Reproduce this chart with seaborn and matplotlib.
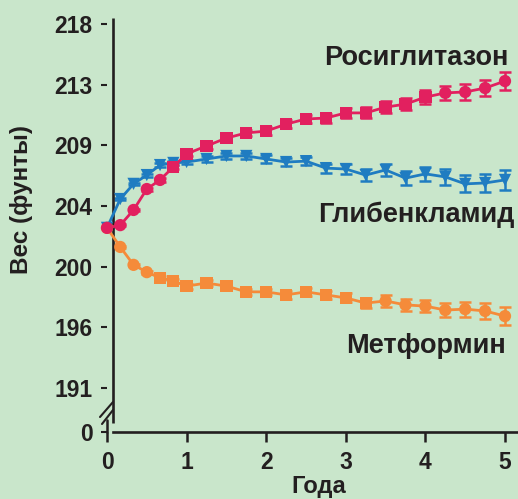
import numpy as np
import pandas as pd
import matplotlib
matplotlib.use('Agg')
import matplotlib.pyplot as plt
import seaborn as sns

# ---------------------------------------------------------------------------
# данные (ось Y линейна в кг, подписи — в фунтах)
# ---------------------------------------------------------------------------
years = [0, 1/6, 1/3, 0.5, 2/3, 5/6, 1.0, 1.25, 1.5, 1.75, 2.0, 2.25, 2.5,
         2.75, 3.0, 3.25, 3.5, 3.75, 4.0, 4.25, 4.5, 4.75, 5.0]

rosi_kg = [92.28, 92.37, 92.87, 93.56, 93.86, 94.29, 94.72, 94.98, 95.24, 95.41,
           95.47, 95.70, 95.87, 95.90, 96.07, 96.07, 96.26, 96.36, 96.59, 96.73,
           96.76, 96.89, 97.12]
rosi_err = [0, 0.03, 0.04, 0.05, 0.06, 0.07, 0.08, 0.09, 0.10, 0.11, 0.12, 0.13,
            0.14, 0.15, 0.16, 0.18, 0.20, 0.21, 0.22, 0.24, 0.25, 0.27, 0.29]
rosi_shape = ['o'] * 5 + ['s'] * 14 + ['o'] * 4

glib_kg = [92.28, 93.23, 93.73, 94.02, 94.35, 94.42, 94.45, 94.55, 94.65, 94.65,
           94.55, 94.45, 94.48, 94.25, 94.22, 94.02, 94.19, 93.92, 94.06, 93.96,
           93.73, 93.76, 93.86]
glib_err = [0, 0.03, 0.04, 0.05, 0.06, 0.07, 0.08, 0.09, 0.10, 0.11, 0.12, 0.13,
            0.14, 0.15, 0.17, 0.19, 0.21, 0.22, 0.24, 0.26, 0.28, 0.30, 0.33]
glib_shape = ['v'] * 23

metf_kg = [92.28, 91.65, 91.06, 90.82, 90.63, 90.53, 90.36, 90.46, 90.36, 90.17,
           90.17, 90.07, 90.17, 90.07, 89.97, 89.80, 89.87, 89.74, 89.70, 89.57,
           89.60, 89.54, 89.37]
metf_err = [0, 0.03, 0.04, 0.05, 0.06, 0.07, 0.08, 0.09, 0.10, 0.10, 0.11, 0.12,
            0.13, 0.14, 0.15, 0.17, 0.19, 0.20, 0.21, 0.23, 0.25, 0.27, 0.30]
metf_shape = ['o'] * 4 + ['s'] * 12 + ['o'] * 7

drugs = ['Метформин', 'Глибенкламид', 'Росиглитазон']
colors = ['#f58b3a', '#1f7cc1', '#e2205f']

y_ticks = [85.55, 87, 89, 91, 93, 95, 97, 99]      # 85.55 — позиция "0" под разрывом
y_tick_labels = ['0', '191', '196', '200', '204', '209', '213', '218']
x_ticks = [0, 1, 2, 3, 4, 5]

df = pd.concat([
    pd.DataFrame({'year': years, 'kg': metf_kg, 'err': metf_err, 'shape': metf_shape, 'drug': drugs[0]}),
    pd.DataFrame({'year': years, 'kg': glib_kg, 'err': glib_err, 'shape': glib_shape, 'drug': drugs[1]}),
    pd.DataFrame({'year': years, 'kg': rosi_kg, 'err': rosi_err, 'shape': rosi_shape, 'drug': drugs[2]}),
], ignore_index=True)

# ---------------------------------------------------------------------------
BG = '#c9e6cb'
INK = '#231f20'
W, H = 518, 499

sns.set_style('white', {'axes.facecolor': BG, 'figure.facecolor': BG})
plt.rcParams['font.family'] = ['Liberation Sans', 'DejaVu Sans']
plt.rcParams['font.weight'] = 'bold'

fig = plt.figure(figsize=(W / 100, H / 100), dpi=100)
# оси: x=0 -> 107px, x=5 -> 505px; 87 кг -> 388px, 99 кг -> 24px
px_x = 79.6
px_y = 30.33
left_px, right_px, top_px, bot_px = 101, 518, 18, 432
ax = fig.add_axes([left_px / W, 1 - bot_px / H, (right_px - left_px) / W, (bot_px - top_px) / H])
ax.set_xlim((left_px - 107) / px_x, (right_px - 107) / px_x)
ax.set_ylim(87 - (bot_px - 388) / px_y, 87 + (388 - top_px) / px_y)

pal = dict(zip(drugs, colors))
for d in drugs:
    sub = df[df['drug'] == d]
    ax.errorbar(sub['year'], sub['kg'], yerr=sub['err'], fmt='none', ecolor=pal[d],
                elinewidth=1.8, capsize=4, capthick=1.8, zorder=2, clip_on=False)
sns.lineplot(data=df, x='year', y='kg', hue='drug', hue_order=drugs, palette=pal,
             linewidth=2.0, legend=False, ax=ax, zorder=3, clip_on=False)
sns.scatterplot(data=df, x='year', y='kg', hue='drug', hue_order=drugs, palette=pal,
                style='shape', markers={'o': 'o', 's': 's', 'v': 'v'}, s=78,
                linewidth=0, legend=False, ax=ax, zorder=4, clip_on=False)

# оси и разрыв
for s in ['top', 'right', 'left']:
    ax.spines[s].set_visible(False)
ax.spines['left'].set_position(('data', 0))
ax.spines['bottom'].set_linewidth(1.9)
ax.spines['bottom'].set_color(INK)
ax.spines['bottom'].set_bounds((113 - 107) / px_x, (right_px - 107) / px_x)

axis_x = (113 - 107) / px_x
ax.plot([axis_x, axis_x], [87 - (423 - 388) / px_y, ax.get_ylim()[1]], color=INK,
        lw=1.9, clip_on=False, solid_capstyle='butt')
for (x0, y0, x1, y1) in [(100, 417, 113, 402), (102, 424, 113, 410)]:
    fig.add_artist(plt.Line2D([x0 / W, x1 / W], [1 - y0 / H, 1 - y1 / H],
                              transform=fig.transFigure, color=INK, lw=1.5))
fig.add_artist(plt.Line2D([107 / W, 107 / W], [1 - 420 / H, 1 - 432 / H],
                          transform=fig.transFigure, color=INK, lw=1.8))

ax.set_yticks(y_ticks)
ax.set_yticklabels(y_tick_labels)
ax.set_xticks(x_ticks)
ax.set_xticklabels([str(t) for t in x_ticks])
ax.tick_params(axis='y', direction='out', length=4.5, width=1.5, color=INK,
               labelsize=16.5, labelcolor=INK, pad=6, left=True)
ax.tick_params(axis='x', direction='out', length=7.5, width=1.8, color=INK,
               labelsize=16.5, labelcolor=INK, pad=6, bottom=True)
for lab in ax.get_xticklabels() + ax.get_yticklabels():
    lab.set_fontweight('bold')
ax.set_xlabel('')
ax.set_ylabel('')

fig.text(22 / W, 1 - 200 / H, 'Вес (фунты)', rotation=90, ha='center', va='center',
         fontsize=17.5, fontweight='bold', color=INK)
fig.text(319 / W, 1 - 493 / H, 'Года', ha='center', va='baseline',
         fontsize=17, fontweight='bold', color=INK)

fig.text(508 / W, 1 - 65 / H, 'Росиглитазон', ha='right', va='baseline',
         fontsize=19.5, fontweight='bold', color=INK)
fig.text(515 / W, 1 - 222 / H, 'Глибенкламид', ha='right', va='baseline',
         fontsize=19.5, fontweight='bold', color=INK)
fig.text(506 / W, 1 - 353 / H, 'Метформин', ha='right', va='baseline',
         fontsize=19.5, fontweight='bold', color=INK)

fig.savefig('out.png', dpi=100, facecolor=BG)
